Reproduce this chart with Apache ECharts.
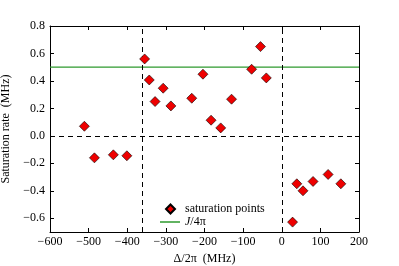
<!DOCTYPE html>
<html><head><meta charset="utf-8">
<script src="https://cdn.jsdelivr.net/npm/echarts@6/dist/echarts.min.js"></script>
<style>html,body{margin:0;padding:0;background:#fff}#c{width:399px;height:266px}</style>
</head><body><div id="c"></div>
<script>
const detuning = [-511,-485,-436,-401,-355,-343,-328,-307,-287,-233,-204,-183,-158,-130,-78,-55,-40,28,39,55,81,120,153];
const rate = [0.07,-0.16,-0.138,-0.145,0.56,0.407,0.25,0.347,0.218,0.274,0.449,0.114,0.058,0.267,0.485,0.65,0.422,-0.628,-0.349,-0.40,-0.332,-0.281,-0.349];
const jLevel = 0.5;
const vLines = [-360, 0];
const hLines = [0];
const xTicks = [-600,-500,-400,-300,-200,-100,0,100,200];
const yTicks = [-0.6,-0.4,-0.2,0.0,0.2,0.4,0.6,0.8];
const xRange = [-600, 200];
const yRange = [-0.7, 0.8];

const font = 'Liberation Serif, DejaVu Serif, serif';
const fmtMinus = s => String(s).replace('-', '\u2212');
const chart = echarts.init(document.getElementById('c'));
const baseAxis = {
  axisLine:{show:true, onZero:false, lineStyle:{color:'#000', width:1}},
  splitLine:{show:false},
};
function xAx(pos, labels){
  return Object.assign({type:'value', min:xRange[0], max:xRange[1], position:pos,
    axisTick:{show:true, inside:true, length:4, lineStyle:{color:'#000'}, customValues:xTicks},
    axisLabel: labels ? {fontFamily:font, fontSize:12, color:'#000', margin:4, customValues:xTicks, formatter:v=>fmtMinus(v)} : {show:false}
  }, baseAxis);
}
function yAx(pos, labels){
  return Object.assign({type:'value', min:yRange[0], max:yRange[1], position:pos,
    axisTick:{show:true, inside:true, length:4, lineStyle:{color:'#000'}, customValues:yTicks},
    axisLabel: labels ? {fontFamily:font, fontSize:12, color:'#000', margin:5, customValues:yTicks, formatter:v=>fmtMinus((Math.round(v*10)/10).toFixed(1))} : {show:false}
  }, baseAxis);
}
const xa = xAx('bottom', true);
xa.name = '\u0394/2\u03c0  (MHz)'; xa.nameLocation = 'middle'; xa.nameGap = 18;
xa.nameTextStyle = {fontFamily:font, fontSize:12, color:'#000'};
const ya = yAx('left', true);
ya.name = 'Saturation rate  (MHz)'; ya.nameLocation = 'middle'; ya.nameGap = 35; ya.nameRotate = 90;
ya.nameTextStyle = {fontFamily:font, fontSize:12, color:'#000'};
const legText = {fontFamily:font, fontSize:12, color:'#000',
  rich:{i:{fontFamily:font, fontSize:12, fontStyle:'italic', color:'#000'},
        n:{fontFamily:font, fontSize:12, color:'#000'},
        s:{width:5}}};
chart.setOption({
  animation:false,
  grid:{left:50, right:40, top:26, bottom:34, outerBoundsMode:'none', containLabel:false},
  xAxis:[xa, xAx('top', false)],
  yAxis:[ya, yAx('right', false)],
  legend:[
    {orient:'vertical', left:160, top:198, itemWidth:9, itemHeight:9, textStyle:legText,
      padding:[5,5,5,5],
      formatter: name => '{s|}{n|' + name + '}',
      data:[{name:'saturation points', icon:'diamond'}]},
    {orient:'vertical', left:155, top:211, itemWidth:20, itemHeight:1.5, textStyle:legText,
      formatter: name => '{i|J}{n|/4\u03c0}',
      data:[{name:'J/4\u03c0', icon:'rect'}]}
  ],
  series:[
    {name:'dashes', type:'line', data:[], silent:true,
      markLine:{silent:true, symbol:'none', label:{show:false},
        lineStyle:{color:'#000', type:[5,4], width:1},
        data: vLines.map(x=>({xAxis:x})).concat(hLines.map(y=>({yAxis:y})))}},
    {name:'J/4\u03c0', type:'line', data:[[xRange[0], jLevel],[xRange[1], jLevel]],
      symbol:'none', lineStyle:{color:'#2e9a2e', width:1.2}, itemStyle:{color:'#2e9a2e'}, z:3},
    {name:'saturation points', type:'scatter', symbol:'diamond', symbolSize:10,
      data: detuning.map((x,i)=>[x, rate[i]]),
      itemStyle:{color:'#ee0000', borderColor:'#000', borderWidth:0.6, opacity:1}, z:5}
  ]
});
</script></body></html>
